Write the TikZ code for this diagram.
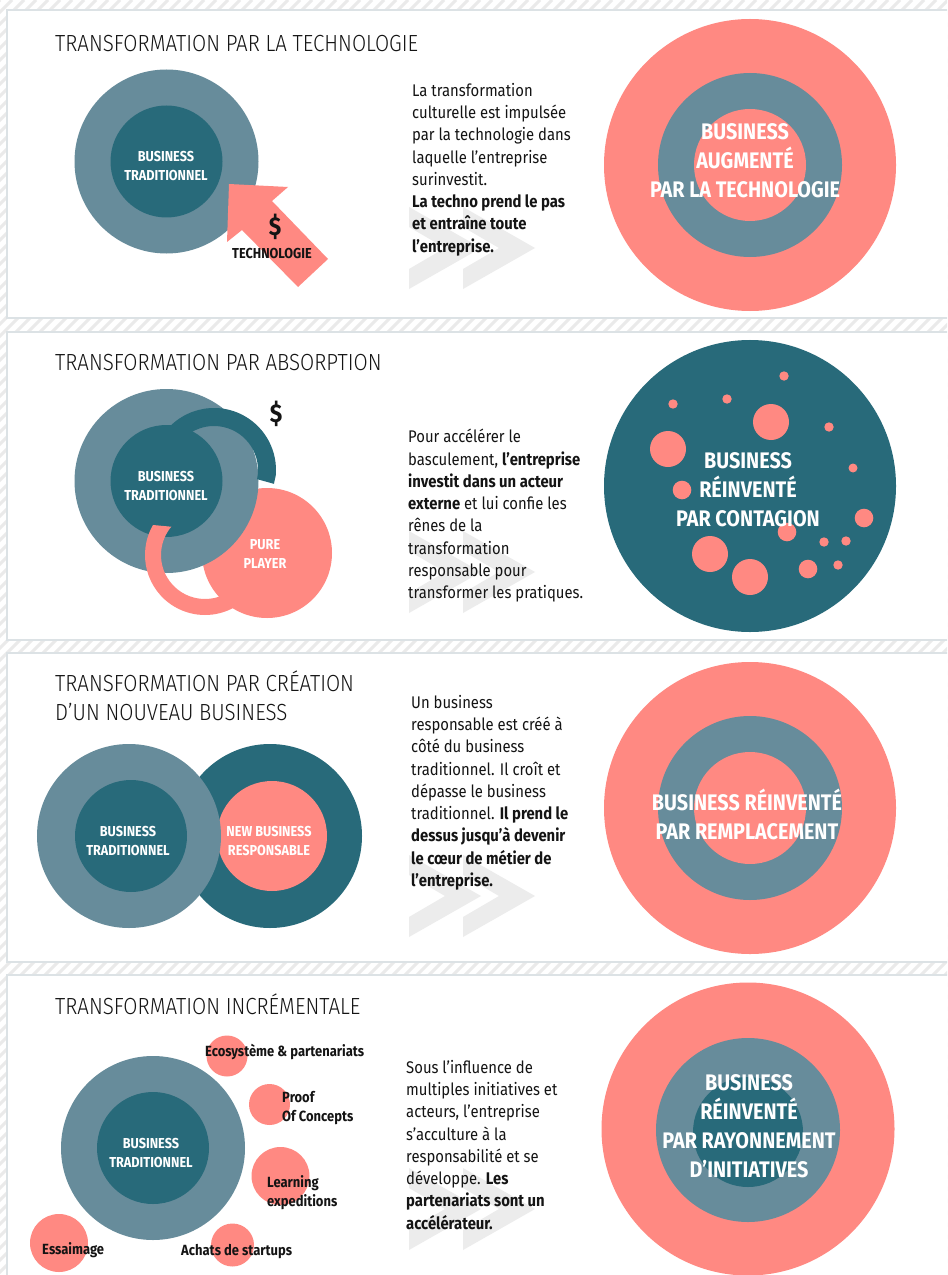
\documentclass[tikz,border=0pt]{standalone}
\usepackage{fontspec}
\setmainfont{Fira Sans}[FakeStretch=0.88]
\newfontfamily\lightfont{Fira Sans}[UprightFont={* Light}, FakeStretch=0.88]
\usepackage{tikz}
\usetikzlibrary{calc}
\definecolor{slateColor}{RGB}{103,140,155}
\definecolor{tealColor}{RGB}{40,106,122}
\definecolor{salmonColor}{RGB}{255,137,130}
\definecolor{chevronColor}{RGB}{236,236,236}
\definecolor{frameColor}{RGB}{220,226,229}
\definecolor{hatchColor}{RGB}{234,234,234}
\definecolor{inkColor}{RGB}{20,20,20}

\begin{document}
\begin{tikzpicture}[
        x=0.3mm, y=-0.3mm,
        disc/.style={circle, inner sep=0pt, minimum size=#1*0.6mm},
        panel/.style={fill=white, draw=frameColor, line width=0.6mm},
        title/.style={anchor=base west, inner sep=0pt, text=inkColor, font=\lightfont\fontsize{19.9}{24.7}\selectfont},
        body/.style={anchor=north west, inner sep=0pt, align=left, text=inkColor, font=\fontsize{14.4}{19}\selectfont},
        tag/.style={text=white, align=center, inner sep=0pt, font=\bfseries\fontsize{12.3}{16.2}\selectfont},
        bigtag/.style={text=white, align=center, inner sep=0pt, font=\bfseries\fontsize{19.2}{24.7}\selectfont},
        note/.style={anchor=west, text=inkColor, align=left, inner sep=0pt, font=\bfseries\fontsize{12.6}{16.2}\selectfont},
        cash/.style={text=inkColor, inner sep=0pt, font=\bfseries\fontsize{22}{22}\selectfont}
    ]
        \useasboundingbox (0,0) rectangle (947,1275);
        \clip (0,0) rectangle (947,1275);

        % Striped backdrop and the four panels
        \fill[white] (0,0) rectangle (947,1275);
        \foreach \k in {0,12,...,2280}
            \draw[hatchColor, line width=0.9mm] (\k,0) -- ++(-1300,1300);
        \draw[panel] (7,10) rectangle (990,318);
        \draw[panel] (7,332) rectangle (990,640);
        \draw[panel] (7,653) rectangle (990,962);
        \draw[panel] (7,975) rectangle (990,1300);

        % Chevrons behind the text columns
        \foreach \y in {207,531,855,1168}
            \foreach \dx in {0,54}
                \fill[chevronColor] (409+\dx,\y) -- ++(72,41) -- ++(-72,41) -- ++(0,-20) -- ++(36,-21) -- ++(-36,-21) -- cycle;

        % Transformation par la technologie
        \node[title] (techTitle) at (55,52) {TRANSFORMATION PAR LA TECHNOLOGIE};
        \node[disc=92, fill=slateColor] (techOuter) at (166.5,161.5) {};
        \node[disc=56, fill=tealColor] (techCore) at (166.5,161.5) {};
        \fill[salmonColor] (229,184) -- (288,187) -- (272,201) -- (328,259) -- (298,287) -- (242,230) -- (227,242) -- cycle;
        \node[tag] (techLabel) at (166,166) {BUSINESS\\TRADITIONNEL};
        \node[cash] (techCash) at (275,227) {\$};
        \node[tag, text=inkColor] (techName) at (272,254) {TECHNOLOGIE};
        \node[body] (techText) at (412,83) {La transformation\\culturelle est impulsée\\par la technologie dans\\laquelle l’entreprise\\surinvestit.\\\textbf{La techno prend le pas}\\\textbf{et entraîne toute}\\\textbf{l’entreprise.}};
        \node[disc=146, fill=salmonColor] (augOuter) at (750,165) {};
        \node[disc=92, fill=slateColor] (augMid) at (750,165) {};
        \node[disc=56, fill=salmonColor] (augCore) at (750,165) {};
        \node[bigtag] (augLabel) at (745,161) {BUSINESS\\AUGMENTÉ\\PAR LA TECHNOLOGIE};

        % Transformation par absorption
        \node[title] (absTitle) at (55,370) {TRANSFORMATION PAR ABSORPTION};
        \node[disc=65, fill=salmonColor] (pureOuter) at (267,553) {};
        \node[disc=92, fill=slateColor] (absOuter) at (166.5,481) {};
        \node[disc=56, fill=tealColor] (absCore) at (166.5,481) {};
        \coordinate (buyHub) at (214,470);
        \fill[tealColor] ([shift={(-150:62)}]buyHub) arc[start angle=-150, end angle=5, radius=62]
            -- ([shift={(13:61.5)}]buyHub) -- ([shift={(12:44)}]buyHub)
            arc[start angle=12, end angle=-150, radius=44] -- cycle;
        \coordinate (giveHub) at (205,555);
        \fill[salmonColor] ([shift={(-150:60)}]giveHub) arc[start angle=-150, end angle=-300, radius=60]
            -- ([shift={(-300:44)}]giveHub)
            arc[start angle=-300, end angle=-140, radius=44] -- cycle;
        \node[tag] (absLabel) at (166,486) {BUSINESS\\TRADITIONNEL};
        \node[tag] (pureLabel) at (265,554) {PURE\\PLAYER};
        \node[cash] (absCash) at (276,414) {\$};
        \node[body] (absText) at (408,429) {Pour accélérer le\\basculement, \textbf{l’entreprise}\\\textbf{investit dans un acteur}\\\textbf{externe} et lui confie les\\rênes de la\\transformation\\responsable pour\\transformer les pratiques.};
        \node[disc=146, fill=tealColor] (contOuter) at (750,486) {};
        \foreach \px/\py/\r in {784/376/4.7, 673/404/4.7, 727/399/4.7, 771/422/18, 829/427/4.7,
                668/449/18, 853/468/4.5, 682/490/9.3, 864/518/9.3, 787/532/9.3, 824/542/4.7,
                846/541/4.7, 710/554/18, 750/577/18, 808/569/9.3, 838/565/4.7}
            \fill[salmonColor] (\px,\py) circle (\r);
        \node[bigtag] (contLabel) at (748,490) {BUSINESS\\RÉINVENTÉ\\PAR CONTAGION};

        % Transformation par creation d'un nouveau business
        \node[title, anchor=west, align=left] (newTitle) at (55,696) {TRANSFORMATION PAR CRÉATION\\D’UN NOUVEAU BUSINESS};
        \node[disc=92, fill=tealColor] (newOuter) at (270,836) {};
        \node[disc=55, fill=salmonColor] (newCore) at (272,836) {};
        \node[disc=92, fill=slateColor] (oldOuter) at (129,836) {};
        \node[disc=56, fill=tealColor] (oldCore) at (131,836) {};
        \node[tag] (oldLabel) at (128,841) {BUSINESS\\TRADITIONNEL};
        \node[tag] (newLabel) at (269,841) {NEW BUSINESS\\RESPONSABLE};
        \node[body] (newText) at (411,695) {Un business\\responsable est créé à\\côté du business\\traditionnel. Il croît et\\dépasse le business\\traditionnel. \textbf{Il prend le}\\\textbf{dessus jusqu’à devenir}\\\textbf{le cœur de métier de}\\\textbf{l’entreprise.}};
        \node[disc=146, fill=salmonColor] (replOuter) at (750,808) {};
        \node[disc=92, fill=slateColor] (replMid) at (750,808) {};
        \node[disc=56, fill=salmonColor] (replCore) at (750,808) {};
        \node[bigtag] (replLabel) at (747,814) {BUSINESS RÉINVENTÉ\\PAR REMPLACEMENT};

        % Transformation incrementale
        \node[title] (incTitle) at (55,1014) {TRANSFORMATION INCRÉMENTALE};
        \node[disc=92, fill=slateColor] (incOuter) at (153,1148) {};
        \node[disc=56, fill=tealColor] (incCore) at (153,1148) {};
        \node[tag] (incLabel) at (151,1153) {BUSINESS\\TRADITIONNEL};
        \node[disc=20.5, fill=salmonColor] (ecoDot) at (227,1056) {};
        \node[disc=20.5, fill=salmonColor] (pocDot) at (269.5,1104.5) {};
        \node[disc=29, fill=salmonColor] (learnDot) at (280.5,1176) {};
        \node[disc=29, fill=salmonColor] (swarmDot) at (59,1243) {};
        \node[disc=21.5, fill=salmonColor] (buyDot) at (232.5,1245) {};
        \node[note] (ecoNote) at (205,1052) {Ecosystème \& partenariats};
        \node[note] (pocNote) at (282,1108) {Proof\\Of Concepts};
        \node[note] (learnNote) at (267,1193) {Learning\\expeditions};
        \node[note] (swarmNote) at (42,1250) {Essaimage};
        \node[note] (buyNote) at (181,1252) {Achats de startups};
        \node[body] (incText) at (406,1060) {Sous l’influence de\\multiples initiatives et\\acteurs, l’entreprise\\s’acculture à la\\responsabilité et se\\développe. \textbf{Les}\\\textbf{partenariats sont un}\\\textbf{accélérateur.}};
        \node[disc=146.5, fill=salmonColor] (rayOuter) at (748,1129) {};
        \node[disc=92, fill=slateColor] (rayMid) at (748,1130) {};
        \node[disc=55, fill=tealColor] (rayCore) at (748,1132) {};
        \node[bigtag] (rayLabel) at (749,1126) {BUSINESS\\RÉINVENTÉ\\PAR RAYONNEMENT\\D’INITIATIVES};
    \end{tikzpicture}
\end{document}
